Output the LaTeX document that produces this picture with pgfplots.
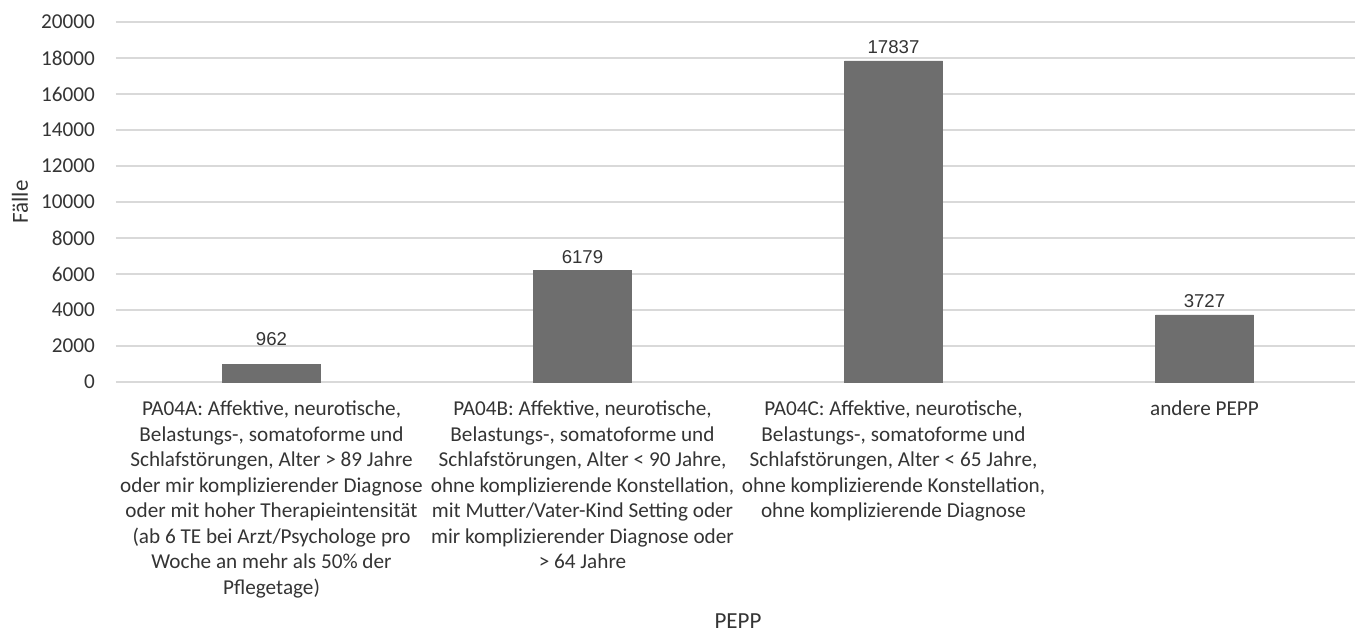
\documentclass[border=0pt]{standalone}
\usepackage{pgfplots}
\pgfplotsset{compat=1.18}
\usepackage{fontspec}
\setmainfont{Carlito}
\newfontfamily\arialfont{Liberation Sans}
\definecolor{barcol}{RGB}{110,110,110}
\definecolor{gridcol}{RGB}{217,217,217}
\definecolor{textcol}{RGB}{52,52,52}
\begin{document}
\begin{tikzpicture}
\begin{axis}[
    name=ax,
    scale only axis,
    width=622pt, height=180pt,
    ymin=0, ymax=20000,
    ytick={0,2000,...,20000},
    scaled y ticks=false,
    xmin=-0.5, xmax=3.5,
    xtick=data,
    xticklabels={
        {PA04A: Affektive, neurotische,\\Belastungs-, somatoforme und\\Schlafstörungen, Alter > 89 Jahre\\oder mir komplizierender Diagnose\\oder mit hoher Therapieintensität\\(ab 6 TE bei Arzt/Psychologe pro\\Woche an mehr als 50\% der\\Pflegetage)},
        {PA04B: Affektive, neurotische,\\Belastungs-, somatoforme und\\Schlafstörungen, Alter < 90 Jahre,\\ohne komplizierende Konstellation,\\mit Mutter/Vater-Kind Setting oder\\mir komplizierender Diagnose oder\\> 64 Jahre},
        {PA04C: Affektive, neurotische,\\Belastungs-, somatoforme und\\Schlafstörungen, Alter < 65 Jahre,\\ohne komplizierende Konstellation,\\ohne komplizierende Diagnose},
        {andere PEPP}},
    ybar,
    bar width=49pt,
    axis line style={draw=none},
    major tick length=0pt,
    ymajorgrids,
    grid style={draw=gridcol, line width=1pt},
    tick label style={font=\fontsize{10.6}{12.75}\selectfont, text=textcol},
    /pgf/number format/assume math mode=true,
    /pgf/number format/1000 sep={},
    x tick label style={align=center, anchor=north, yshift=-6pt},
    y tick label style={xshift=-7pt},
    visualization depends on={\thisrow{dy} \as \labdy},
    nodes near coords,
    nodes near coords style={font=\arialfont\fontsize{9.3}{11}\selectfont, text=textcol, yshift=\labdy pt},
    ylabel={Fälle},
    ylabel style={at={(rel axis cs:-0.0772,0.5)}, anchor=center, font=\fontsize{11.5}{13}\selectfont, text=textcol},
    xlabel={PEPP},
    xlabel style={at={(rel axis cs:0.5,0)}, anchor=base, yshift=-123pt, font=\fontsize{11.5}{13}\selectfont, text=textcol},
]
\addplot[fill=barcol, draw=barcol] table {
x y dy
0 962 6
1 6179 0
2 17837 0
3 3727 0
};
\end{axis}
\pgfresetboundingbox
\path ([xshift=-58pt, yshift=-125.5pt]ax.south west) rectangle ([xshift=-2.5pt, yshift=11pt]ax.north east);
\end{tikzpicture}
\end{document}
